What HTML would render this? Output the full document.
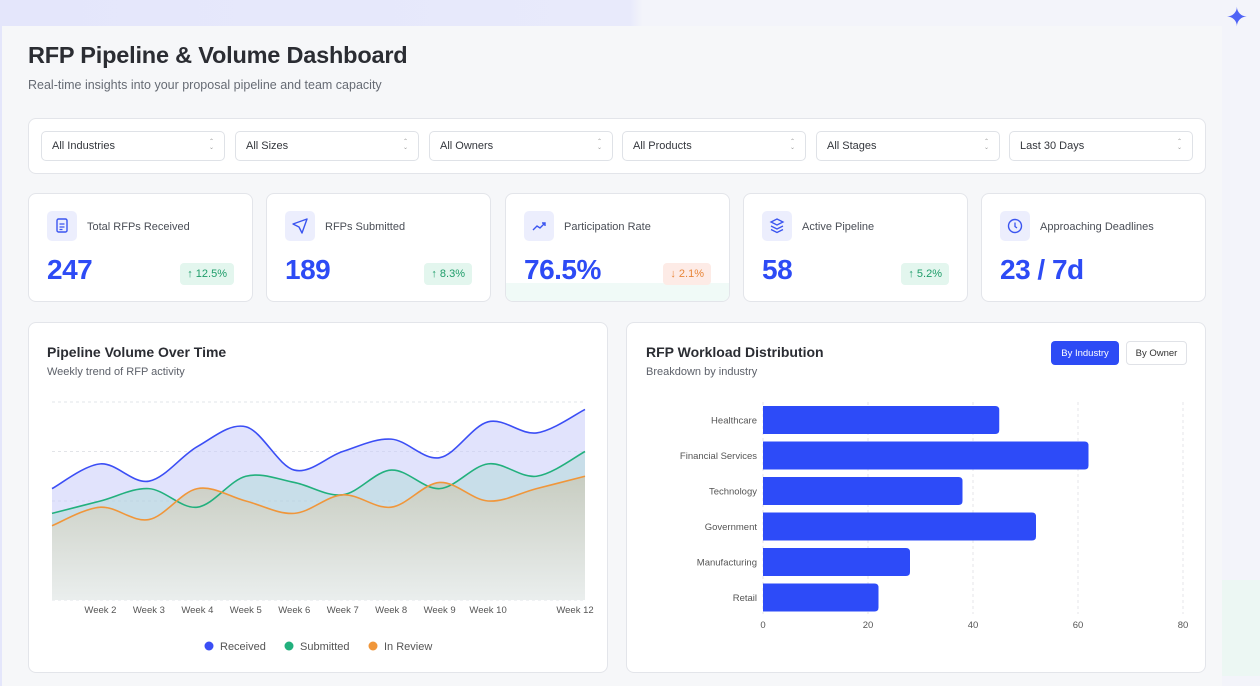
<!DOCTYPE html>
<html><head><meta charset="utf-8">
<style>
*{box-sizing:border-box;margin:0;padding:0}
body{width:1260px;height:676px;overflow:hidden;font-family:"Liberation Sans",sans-serif;background:linear-gradient(90deg,#e4e6fb 0%,#e8eafb 50%,#f3f4fa 51%,#f3f4fa 100%);position:relative}
.main{position:absolute;left:2px;top:26px;width:1220px;height:660px;background:#f6f7f9}
.side{position:absolute;left:1222px;top:580px;width:38px;height:96px;background:#ecf7f3}
h1{position:absolute;left:28px;top:42px;font-size:23.5px;font-weight:bold;color:#2b2d33;letter-spacing:-0.2px}
.sub{position:absolute;left:28px;top:78px;font-size:12.5px;color:#666b74}
.card{position:absolute;background:#fff;border:1px solid #e3e5ea;border-radius:8px}
.sel{position:absolute;top:131px;width:184px;height:30px;border:1px solid #dfe2e7;border-radius:5px;background:#fff;font-size:11px;color:#33363c;padding:8px 10px}
.sel::after{content:"⌃\A⌄";white-space:pre;position:absolute;right:10px;top:7px;font-size:6px;line-height:6px;color:#999}
.kpi{top:193px;width:225px;height:109px}
.ic{position:absolute;left:18px;top:17px;width:30px;height:30px;border-radius:5px;background:#eceefd}
.kl{position:absolute;left:58px;top:27px;font-size:11px;color:#4a4e56}
.kv{position:absolute;left:18px;top:60px;font-size:28px;font-weight:bold;color:#2d4bf5;letter-spacing:-0.5px}
.bd{position:absolute;right:18px;top:69px;height:22px;padding:5px 7px;border-radius:4px;font-size:11px}
.up{background:#e3f6ee;color:#1f9d6a}.dn{background:#fdebe6;color:#e8863a}
.ct{position:absolute;font-size:14px;font-weight:bold;color:#2b2d33}
.cs{position:absolute;font-size:11px;color:#5d616a}
.btn{position:absolute;top:341px;height:24px;font-size:9.5px;border-radius:4px;padding:7px 0;text-align:center;white-space:nowrap}
</style></head><body>
<div class="main"></div>
<div class="side"></div>
<div style="position:absolute;left:1226px;top:2px;color:#4f63f5;font-size:26px">✦</div>
<h1>RFP Pipeline &amp; Volume Dashboard</h1>
<div class="sub">Real-time insights into your proposal pipeline and team capacity</div>

<div class="card" style="left:28px;top:118px;width:1178px;height:56px"></div>
<div class="sel" style="left:41px">All Industries</div>
<div class="sel" style="left:235px">All Sizes</div>
<div class="sel" style="left:429px">All Owners</div>
<div class="sel" style="left:622px">All Products</div>
<div class="sel" style="left:816px">All Stages</div>
<div class="sel" style="left:1009px">Last 30 Days</div>

<div class="card kpi" style="left:28px">
<div class="ic"><svg width="30" height="30"><rect x="10" y="8" width="10" height="13" rx="1.5" fill="none" stroke="#3b55f0" stroke-width="1.4"/><path d="M12.5 13h5M12.5 16h5M12.5 18.5h3" stroke="#3b55f0" stroke-width="1.2"/></svg></div>
<div class="kl">Total RFPs Received</div><div class="kv">247</div><div class="bd up">↑ 12.5%</div></div>
<div class="card kpi" style="left:266px">
<div class="ic"><svg width="30" height="30"><path d="M8 13l14-5-5 14-3-6z" fill="none" stroke="#3b55f0" stroke-width="1.4" stroke-linejoin="round"/></svg></div>
<div class="kl">RFPs Submitted</div><div class="kv">189</div><div class="bd up">↑ 8.3%</div></div>
<div class="card kpi" style="left:505px;overflow:hidden">
<div style="position:absolute;left:0;right:0;top:89px;bottom:0;background:#f0faf7"></div>
<div class="ic"><svg width="30" height="30"><path d="M9 19l4-4 3 2 5-5M18 12h3v3" fill="none" stroke="#3b55f0" stroke-width="1.4"/></svg></div>
<div class="kl">Participation Rate</div><div class="kv">76.5%</div><div class="bd dn">↓ 2.1%</div></div>
<div class="card kpi" style="left:743px">
<div class="ic"><svg width="30" height="30"><path d="M15 8l6 3-6 3-6-3z M9 15l6 3 6-3 M9 18.5l6 3 6-3" fill="none" stroke="#3b55f0" stroke-width="1.3"/></svg></div>
<div class="kl">Active Pipeline</div><div class="kv">58</div><div class="bd up">↑ 5.2%</div></div>
<div class="card kpi" style="left:981px">
<div class="ic"><svg width="30" height="30"><circle cx="15" cy="15" r="6.5" fill="none" stroke="#3b55f0" stroke-width="1.4"/><path d="M15 11.5v4l2 1.5" fill="none" stroke="#3b55f0" stroke-width="1.3"/></svg></div>
<div class="kl">Approaching Deadlines</div><div class="kv">23 / 7d</div></div>

<div class="card" style="left:28px;top:322px;width:580px;height:351px"></div>
<div class="ct" style="left:47px;top:344px">Pipeline Volume Over Time</div>
<div class="cs" style="left:47px;top:366px">Weekly trend of RFP activity</div>
<svg id="lc" style="position:absolute;left:0;top:0" width="620" height="676"></svg>

<div class="card" style="left:626px;top:322px;width:580px;height:351px"></div>
<div class="ct" style="left:646px;top:344px">RFP Workload Distribution</div>
<div class="cs" style="left:646px;top:366px">Breakdown by industry</div>
<div class="btn" style="left:1051px;width:68px;background:#2d4bf5;color:#fff">By Industry</div>
<div class="btn" style="left:1126px;width:61px;background:#fff;color:#333;border:1px solid #e0e2e7;padding-top:6px">By Owner</div>
<svg id="bc" style="position:absolute;left:0;top:0" width="1260" height="676"></svg>

<script>
const weeks=["Week 1","Week 2","Week 3","Week 4","Week 5","Week 6","Week 7","Week 8","Week 9","Week 10","Week 11","Week 12"];
const received=[45,55,48,62,70,52.5,60,65,57.5,72,67.5,77];
const submitted=[35,40,45,37.5,50,47.5,42.5,52.5,45,55,50,60];
const inReview=[30,37.5,32.5,45,40,35,42.5,37.5,47.5,40,45,50];
const yTicks=[0,20,40,60,80];
const industries=["Healthcare","Financial Services","Technology","Government","Manufacturing","Retail"];
const workload=[45,62,38,52,28,22];
const xTicks=[0,20,40,60,80];

const NS="http://www.w3.org/2000/svg";
function mk(p,t,a){const e=document.createElementNS(NS,t);for(const k in a)e.setAttribute(k,a[k]);p.appendChild(e);return e;}
const lc=document.getElementById('lc');
const X0=52,X1=585,Y0=600,Y1=402;
const lx=i=>X0+(X1-X0)*i/(weeks.length-1);
const ly=v=>Y0-(Y0-Y1)*v/80;
const defs=mk(lc,'defs',{});
const g=mk(defs,'linearGradient',{id:'gr',x1:0,y1:0,x2:0,y2:1});
mk(g,'stop',{offset:'0','stop-color':'#c8cbbd','stop-opacity':'0.9'});
mk(g,'stop',{offset:'1','stop-color':'#eef0ee','stop-opacity':'0.9'});
yTicks.forEach(t=>{const l=mk(lc,'line',{x1:X0,x2:X1,y1:ly(t),y2:ly(t),stroke:'#e2e4e8','stroke-dasharray':'3 3'});

});
function path(vals){const p=vals.map((v,i)=>[lx(i),ly(v)]);let d=`M${p[0][0]},${p[0][1]}`;
for(let i=0;i<p.length-1;i++){const a=p[i-1]||p[i],b=p[i],c=p[i+1],e=p[i+2]||c;
d+=` C${b[0]+(c[0]-a[0])/6},${b[1]+(c[1]-a[1])/6} ${c[0]-(e[0]-b[0])/6},${c[1]-(e[1]-b[1])/6} ${c[0]},${c[1]}`;}return d;}
const series=[[received,'#3b4ef5','rgba(200,204,250,0.55)','received'],[submitted,'#22b07d','rgba(170,215,210,0.45)','submitted'],[inReview,'#f0963a','url(#gr)','in-review']];
series.forEach(([v,c,f,n])=>{const a=mk(lc,'path',{d:path(v)+` L${X1},${Y0} L${X0},${Y0} Z`,fill:f});

});
series.forEach(([v,c,f,n])=>{const l=mk(lc,'path',{d:path(v),fill:'none',stroke:c,'stroke-width':1.6});

});
weeks.forEach((w,i)=>{if(i===0||i===10)return;const t=mk(lc,'text',{x:i===11?lx(i)-10:lx(i),y:613,'text-anchor':'middle','font-size':9.5,fill:'#555',"font-family":"Liberation Sans"});t.textContent=w;

});
const leg=[['Received','#3b4ef5',205],['Submitted','#22b07d',285],['In Review','#f0963a',369]];
leg.forEach(([n,c,x])=>{const d=mk(lc,'circle',{cx:x+4,cy:646,r:4.5,fill:c});


const t=mk(lc,'text',{x:x+15,y:650,'font-size':11,fill:'#555',"font-family":"Liberation Sans"});t.textContent=n;

});
const bc=document.getElementById('bc');
const B0=763,B1=1183,BT=402,step=35.5;
const bx=v=>B0+(B1-B0)*v/80;
xTicks.forEach(t=>{const l=mk(bc,'line',{x1:bx(t),x2:bx(t),y1:BT,y2:614,stroke:'#e4e6ea','stroke-dasharray':'3 3'});


const tx=mk(bc,'text',{x:bx(t),y:628,'text-anchor':'middle','font-size':9.5,fill:'#555',"font-family":"Liberation Sans"});tx.textContent=t;

});
industries.forEach((n,i)=>{const cy=BT+18+i*step;
const r=mk(bc,'path',{d:`M${B0},${cy-14} H${bx(workload[i])-4} Q${bx(workload[i])},${cy-14} ${bx(workload[i])},${cy-10} V${cy+10} Q${bx(workload[i])},${cy+14} ${bx(workload[i])-4},${cy+14} H${B0} Z`,fill:'#2d4bf8'});


const t=mk(bc,'text',{x:757,y:cy+3.5,'text-anchor':'end','font-size':9.5,fill:'#555',"font-family":"Liberation Sans"});t.textContent=n;

});
</script>
</body></html>
